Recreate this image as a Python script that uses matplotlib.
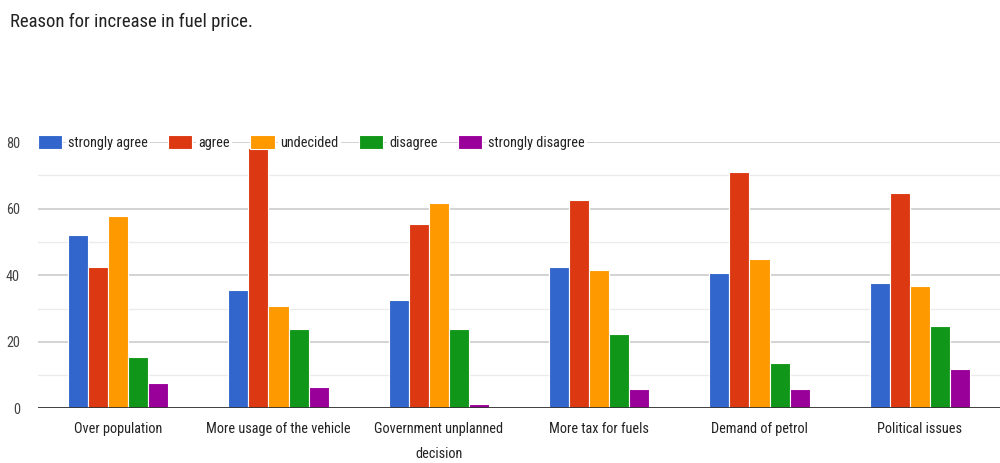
import matplotlib
matplotlib.use("Agg")
import matplotlib.pyplot as plt
import numpy as np
from matplotlib import font_manager

# Narrow fonts look closer to the squeezed screenshot; fall back to Roboto
names = {f.name for f in font_manager.fontManager.ttflist}
if "Roboto Condensed" in names:
    family, scale = "Roboto Condensed", 0.93
elif "Liberation Sans Narrow" in names:
    family, scale = "Liberation Sans Narrow", 0.95
else:
    family, scale = "Roboto", 0.8
plt.rcParams["font.family"] = [family, "DejaVu Sans"]

categories = ["Over population", "More usage of the vehicle",
              "Government unplanned\ndecision", "More tax for fuels",
              "Demand of petrol", "Political issues"]
series_names = ["strongly agree", "agree", "undecided", "disagree", "strongly disagree"]
strongly_agree = [52, 35.5, 32.7, 42.5, 40.6, 37.8]
agree = [42.5, 78.3, 55.5, 62.6, 71, 64.8]
undecided = [57.8, 30.8, 61.7, 41.5, 44.8, 36.9]
disagree = [15.4, 23.8, 23.8, 22.4, 13.5, 24.8]
strongly_disagree = [7.5, 6.5, 1.4, 5.7, 5.7, 11.7]
colors = ["#3366cc", "#dc3912", "#ff9900", "#109618", "#990099"]
y_ticks = [0, 20, 40, 60, 80]

values = [strongly_agree, agree, undecided, disagree, strongly_disagree]

fig = plt.figure(figsize=(10, 4.63), dpi=100)
ax = fig.add_axes([0.038, 0.118, 0.962, 0.575])

x = np.arange(len(categories))
width = 0.125
for i, (name, vals, c) in enumerate(zip(series_names, values, colors)):
    ax.bar(x + (i - 2) * width, vals, width, color=c, edgecolor="white",
           linewidth=0.8, label=name, zorder=3)

ax.set_xlim(-0.5, len(categories) - 0.5)
ax.set_ylim(0, 80)
ax.set_yticks(y_ticks)
ax.set_yticks([10, 30, 50, 70], minor=True)
ax.grid(axis="y", which="major", color="#cccccc", linewidth=1.2, zorder=0)
ax.grid(axis="y", which="minor", color="#ebebeb", linewidth=1.0, zorder=0)
ax.axhline(0, color="#333333", linewidth=2, zorder=4)

for s in ax.spines.values():
    s.set_visible(False)
ax.tick_params(axis="both", which="both", length=0)
ax.tick_params(axis="y", labelsize=11 * scale, labelcolor="#444444", pad=13)
ax.tick_params(axis="x", labelsize=11 * scale, labelcolor="#222222", pad=10)
ax.set_xticks(x)
ax.set_xticklabels(categories, linespacing=2.0, va="top")
ax.set_axisbelow(True)

leg = ax.legend(loc="center left", bbox_to_anchor=(0.0, 1.0), ncol=5,
                frameon=False, fontsize=11 * scale, handlelength=1.7,
                handleheight=1.2, handletextpad=0.4, columnspacing=1.45,
                borderaxespad=0, borderpad=0)
for t in leg.get_texts():
    t.set_color("#222222")
    t.set_bbox(dict(facecolor="white", edgecolor="none", pad=1.5))

fig.text(0.01, 0.952, "Reason for increase in fuel price.", fontsize=14.5 * scale,
         color="#222222", va="center", ha="left")

fig.savefig("out.png", dpi=100)
